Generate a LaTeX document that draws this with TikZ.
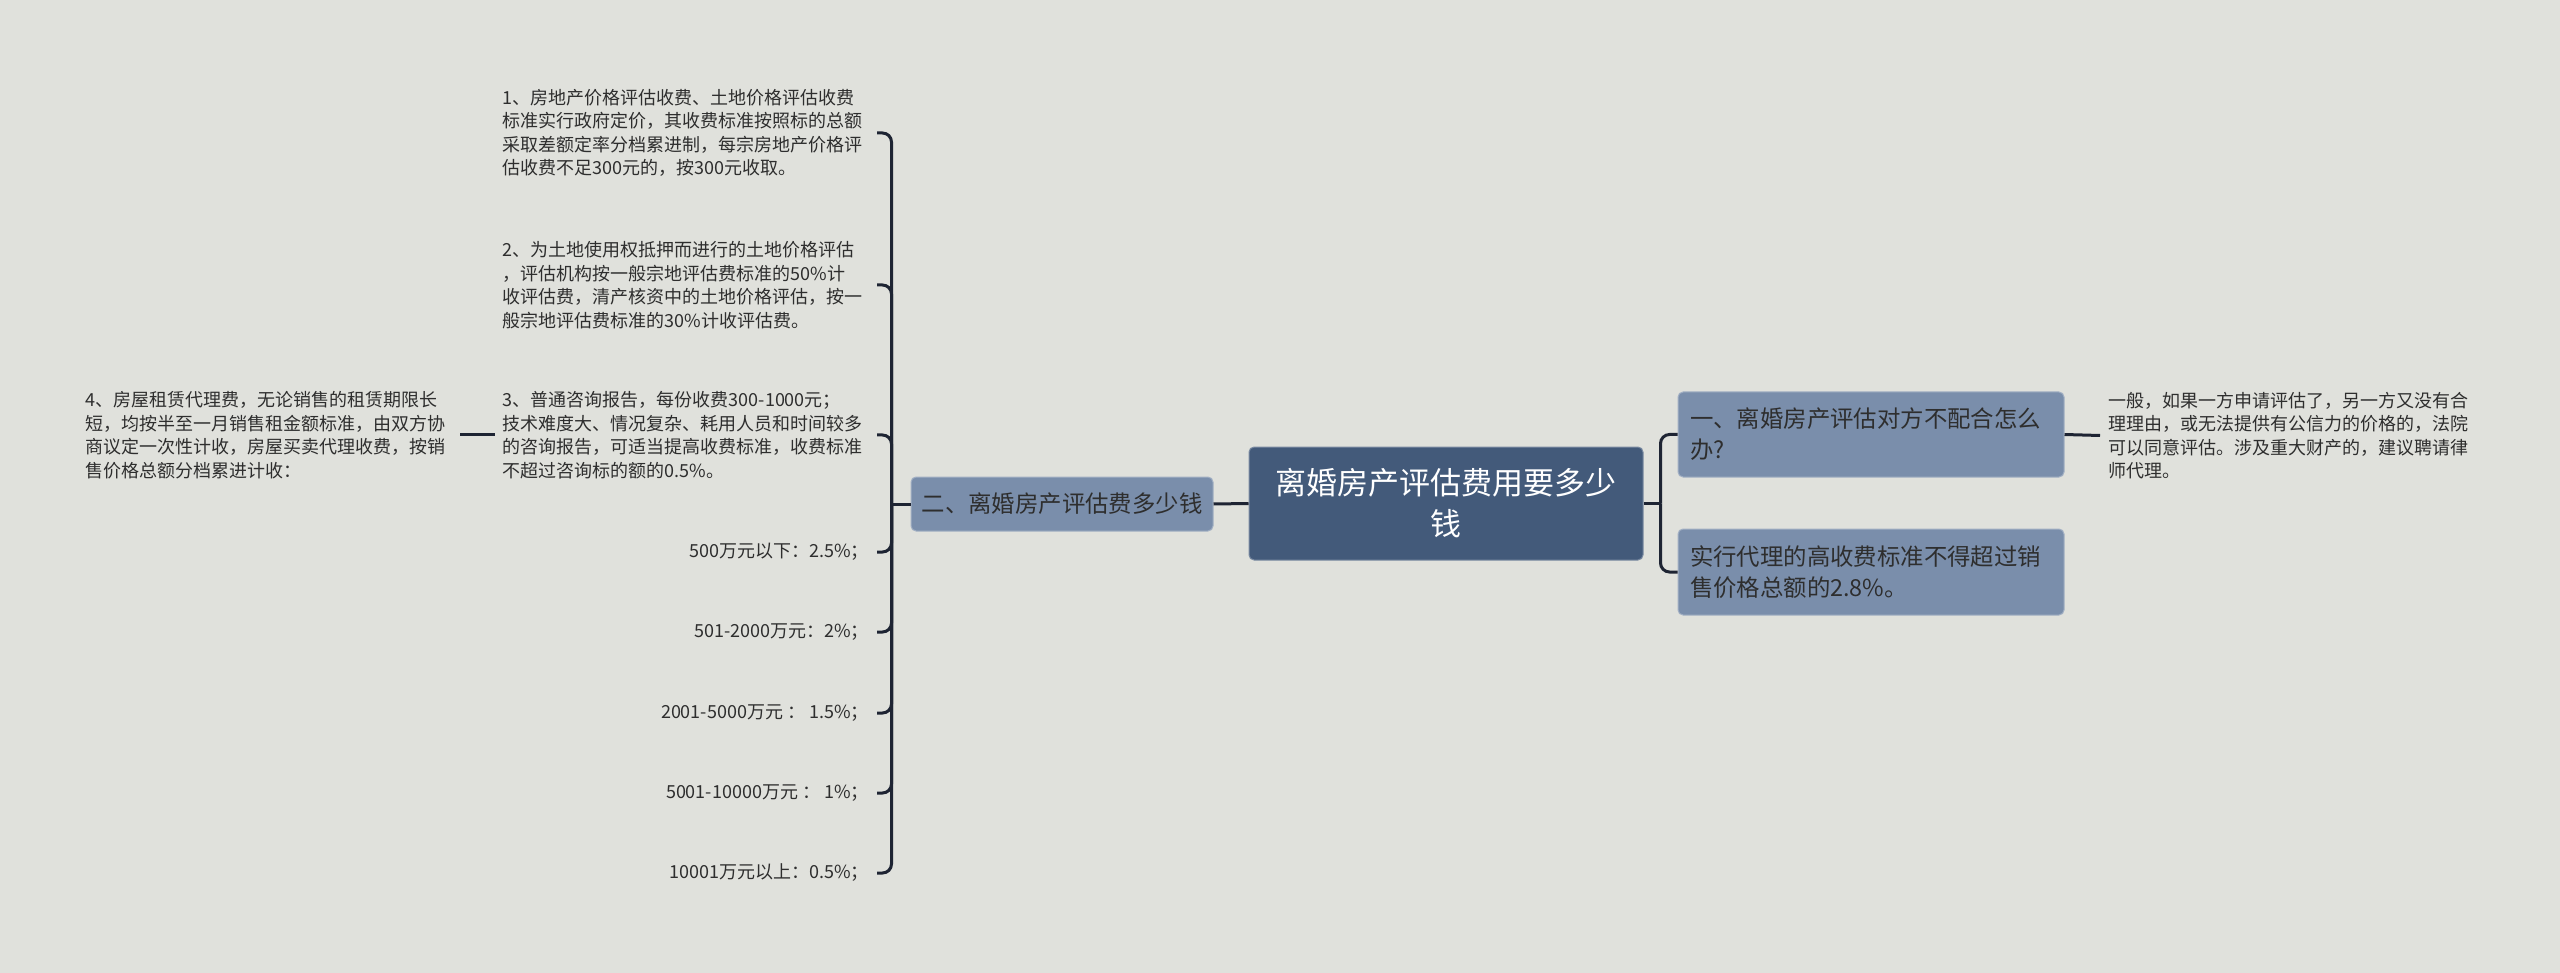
\documentclass[tikz,border=0pt]{standalone}
\usepackage{fontspec}
\setmainfont{Noto Sans CJK SC}
\usetikzlibrary{calc}
\definecolor{bg}{HTML}{E0E1DC}
\definecolor{darkbox}{HTML}{435A7A}
\definecolor{midbox}{HTML}{7A8EAB}
\definecolor{linec}{HTML}{1E2433}
\definecolor{txt}{HTML}{2E2E2E}
\begin{document}
\begin{tikzpicture}[x=1pt,y=-1pt,
  conn/.style={draw=linec, line width=3pt, rounded corners=9pt},
  item/.style={text=txt, font=\fontsize{18}{23.5}\selectfont, inner xsep=8pt, inner ysep=2pt},
  para/.style={item, text width=366pt, align=left},
  short/.style={item, align=right},
  subbox/.style={fill=midbox, draw=midbox!70!white, line width=1pt, rounded corners=5pt, text=txt, font=\fontsize{23.4}{31}\selectfont},
  rootbox/.style={fill=darkbox, draw=darkbox!70!white, line width=1pt, rounded corners=5pt, text=white, font=\fontsize{31}{41}\selectfont, align=center, minimum width=394pt, minimum height=113pt, inner sep=0pt}]
\fill[bg] (0,0) rectangle (2560,973);
\useasboundingbox (0,0) rectangle (2560,973);

% root
\node[rootbox] (c) at (1446,503.5) {离婚房产评估费用要多少\\钱};

% left branch
\node[subbox, minimum width=302pt, minimum height=54pt, inner sep=0pt, align=center] (lb) at (1062,504) {二、离婚房产评估费多少钱};

% right branches
\node[subbox, text width=362pt, inner xsep=12pt, inner ysep=0pt, minimum height=85pt, align=left] (rb1) at (1871,434.5) {一、离婚房产评估对方不配合怎么\\办?};
\node[subbox, text width=362pt, inner xsep=12pt, inner ysep=0pt, minimum height=86pt, align=left] (rb2) at (1871,572) {实行代理的高收费标准不得超过销\\售价格总额的2.8\%。};

\node[para, anchor=west] (rt) at (2100,435.5) {一般，如果一方申请评估了，另一方又没有合\\理理由，或无法提供有公信力的价格的，法院\\可以同意评估。涉及重大财产的，建议聘请律\\师代理。};

% left items
\node[para, anchor=east] (i1) at (877,133) {1、房地产价格评估收费、土地价格评估收费\\标准实行政府定价，其收费标准按照标的总额\\采取差额定率分档累进制，每宗房地产价格评\\估收费不足300元的，按300元收取。};
\node[para, anchor=east] (i2) at (877,285) {2、为土地使用权抵押而进行的土地价格评估\\，评估机构按一般宗地评估费标准的50\%计\\收评估费，清产核资中的土地价格评估，按一\\般宗地评估费标准的30\%计收评估费。};
\node[para, anchor=east] (i3) at (877,435) {3、普通咨询报告，每份收费300-1000元；\\技术难度大、情况复杂、耗用人员和时间较多\\的咨询报告，可适当提高收费标准，收费标准\\不超过咨询标的额的0.5\%。};
\node[short, anchor=east] (i4) at (877,552) {500万元以下：2.5\%；};
\node[short, anchor=east] (i5) at (877,632) {501-2000万元：2\%；};
\node[short, anchor=east] (i6) at (877,713) {2001-5000万元 ： 1.5\%；};
\node[short, anchor=east] (i7) at (877,793) {5001-10000万元 ： 1\%；};
\node[short, anchor=east] (i8) at (877,873) {10001万元以上：0.5\%；};

\node[para, anchor=east] (i9) at (460,435) {4、房屋租赁代理费，无论销售的租赁期限长\\短，均按半至一月销售租金额标准，由双方协\\商议定一次性计收，房屋买卖代理收费，按销\\售价格总额分档累进计收：};

% connectors
\draw[conn] (lb.east) -- (c.west);
\coordinate (lj) at ($(lb.west)+(-19,0)$);
\draw[conn] (lb.west) -- (lj);
\foreach \n in {i1,i2,i3,i4,i5,i6,i7,i8}{
  \draw[conn] (lj) |- (\n.east);
}
\draw[conn] (i9.east) -- (i3.west);

\coordinate (rj) at ($(c.east)+(17,0)$);
\draw[conn] (c.east) -- (rj);
\draw[conn] (rj) |- (rb1.west);
\draw[conn] (rj) |- (rb2.west);
\draw[conn] (rb1.east) -- (rt.west);
\end{tikzpicture}
\end{document}
